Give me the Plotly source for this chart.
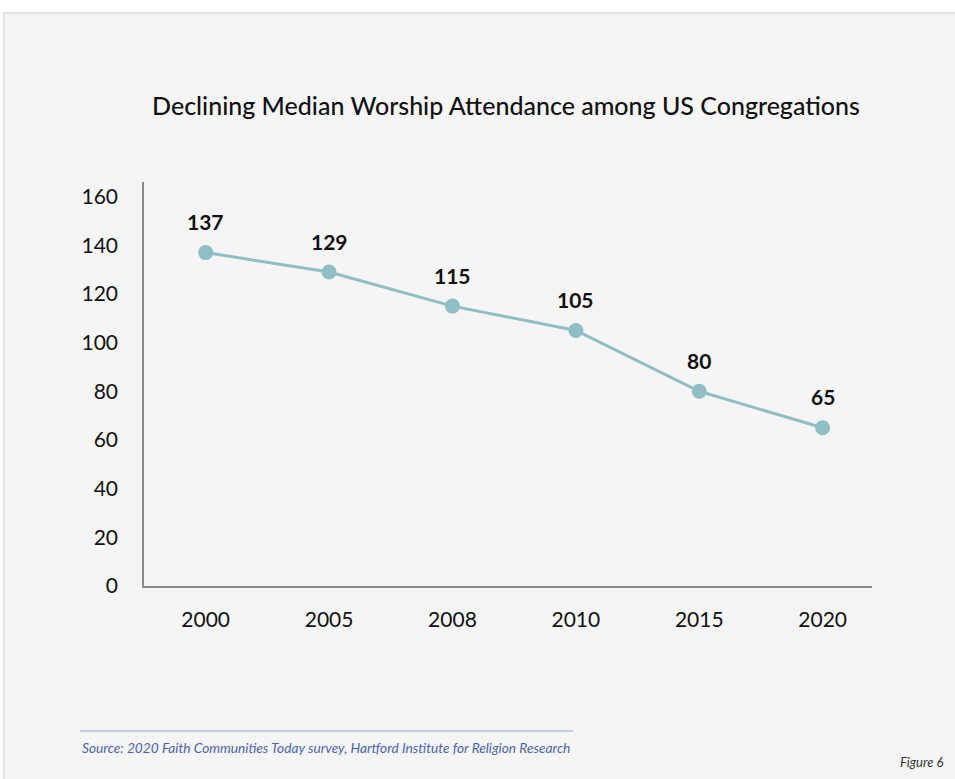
import plotly.graph_objects as go

years = ["2000", "2005", "2008", "2010", "2015", "2020"]
attendance = [137, 129, 115, 105, 80, 65]
y_ticks = [0, 20, 40, 60, 80, 100, 120, 140, 160]

W, H = 955, 779
L, R, T, B = 144, 872, 182, 586
pw, ph = R - L, B - T

def px(x):
    return (x - L) / pw

def py(y):
    return (B - y) / ph

line_color = "#8fbfc5"

fig = go.Figure()
fig.add_trace(go.Scatter(
    x=years, y=attendance, mode="lines+markers",
    line=dict(color=line_color, width=3),
    marker=dict(color=line_color, size=15),
    hoverinfo="x+y", showlegend=False,
))

annotations = []
for i, v in enumerate(attendance):
    annotations.append(dict(
        x=i, y=v, xref="x", yref="y", text=f"<b>{v}</b>", showarrow=False,
        yshift=31, font=dict(family="Lato", size=21, color="#111111"),
    ))

annotations.append(dict(
    xref="paper", yref="paper", x=px(80), y=py(747), xanchor="left", yanchor="middle",
    text="<i>Source: 2020 Faith Communities Today survey, Hartford Institute for Religion Research</i>",
    showarrow=False, font=dict(family="Lato", size=13.7, color="#4a63a6"),
))
annotations.append(dict(
    xref="paper", yref="paper", x=px(945), y=py(762), xanchor="right", yanchor="middle",
    text="<i>Figure 6</i>", showarrow=False, font=dict(family="Lato", size=13, color="#333333"),
))

shapes = [
    dict(type="rect", xref="paper", yref="paper", x0=px(4), x1=px(970), y0=py(800), y1=py(13),
         fillcolor="#f5f5f5", line=dict(color="#dcdcdc", width=1.5), layer="below"),
    dict(type="line", xref="paper", yref="paper", x0=px(80), x1=px(573), y0=py(731), y1=py(731),
         line=dict(color="#8ea2c8", width=1.2)),
]

fig.update_layout(
    width=W, height=H,
    margin=dict(l=L, r=W - R, t=T, b=H - B),
    paper_bgcolor="white", plot_bgcolor="rgba(0,0,0,0)",
    title=dict(text="Declining Median Worship Attendance among US Congregations",
               x=506 / W, xanchor="center", y=1 - 106 / H, yanchor="middle", xref="container", yref="container",
               font=dict(family="Lato", size=25, color="#111111", weight=500)),
    font=dict(family="Lato", color="#111111"),
    annotations=annotations, shapes=shapes,
    xaxis=dict(type="category", range=[-0.5, 5.4], showgrid=False, zeroline=False,
               showline=True, linecolor="#8a8a8a", linewidth=1.5,
               tickfont=dict(family="Lato", size=21, color="#111111"), ticklabelstandoff=14),
    yaxis=dict(range=[0, 166], tickvals=y_ticks, showgrid=False, zeroline=False,
               showline=True, linecolor="#8a8a8a", linewidth=1.5,
               tickfont=dict(family="Lato", size=21, color="#111111"), ticklabelstandoff=20),
)

fig.write_html("out.html")
